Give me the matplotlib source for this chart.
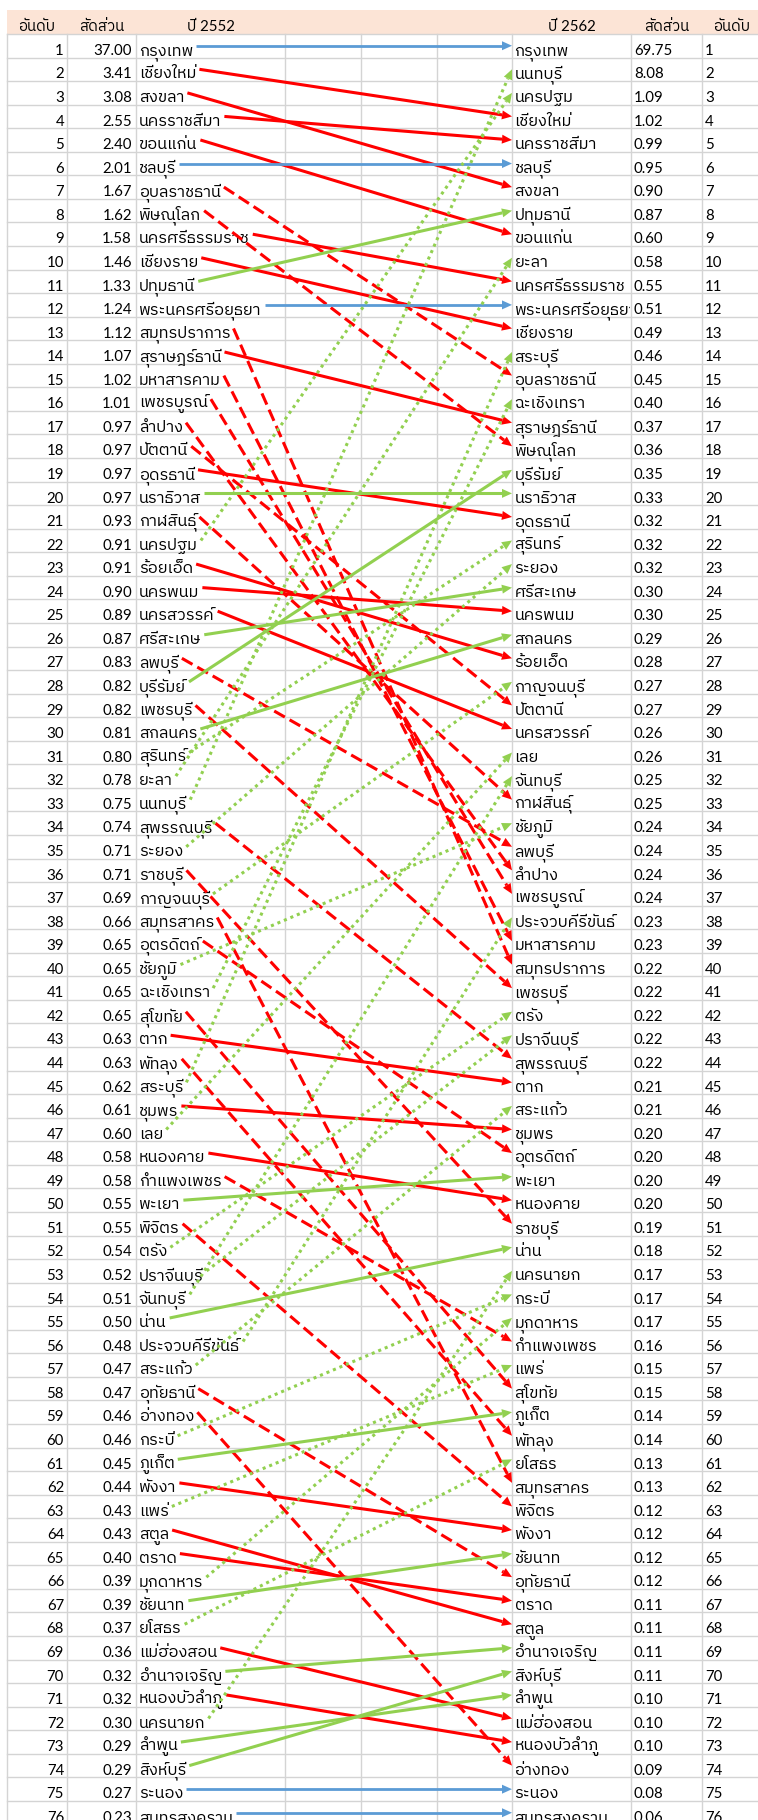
import matplotlib
matplotlib.use('Agg')
import matplotlib.pyplot as plt
from matplotlib import font_manager
from matplotlib.ft2font import FT2Font
from matplotlib.patches import Rectangle, Polygon

# ---- data -------------------------------------------------------------
names_2552 = [
    'กรุงเทพ', 'เชียงใหม่', 'สงขลา', 'นครราชสีมา', 'ขอนแก่น', 'ชลบุรี', 'อุบลราชธานี',
    'พิษณุโลก', 'นครศรีธรรมราช', 'เชียงราย', 'ปทุมธานี', 'พระนครศรีอยุธยา', 'สมุทรปราการ',
    'สุราษฎร์ธานี', 'มหาสารคาม', 'เพชรบูรณ์', 'ลำปาง', 'ปัตตานี', 'อุดรธานี', 'นราธิวาส',
    'กาฬสินธุ์', 'นครปฐม', 'ร้อยเอ็ด', 'นครพนม', 'นครสวรรค์', 'ศรีสะเกษ', 'ลพบุรี',
    'บุรีรัมย์', 'เพชรบุรี', 'สกลนคร', 'สุรินทร์', 'ยะลา', 'นนทบุรี', 'สุพรรณบุรี', 'ระยอง',
    'ราชบุรี', 'กาญจนบุรี', 'สมุทรสาคร', 'อุตรดิตถ์', 'ชัยภูมิ', 'ฉะเชิงเทรา', 'สุโขทัย',
    'ตาก', 'พัทลุง', 'สระบุรี', 'ชุมพร', 'เลย', 'หนองคาย', 'กำแพงเพชร', 'พะเยา', 'พิจิตร',
    'ตรัง', 'ปราจีนบุรี', 'จันทบุรี', 'น่าน', 'ประจวบคีรีขันธ์', 'สระแก้ว', 'อุทัยธานี',
    'อ่างทอง', 'กระบี่', 'ภูเก็ต', 'พังงา', 'แพร่', 'สตูล', 'ตราด', 'มุกดาหาร', 'ชัยนาท',
    'ยโสธร', 'แม่ฮ่องสอน', 'อำนาจเจริญ', 'หนองบัวลำภู', 'นครนายก', 'ลำพูน', 'สิงห์บุรี',
    'ระนอง', 'สมุทรสงคราม',
]
share_2552 = [
    37.00, 3.41, 3.08, 2.55, 2.40, 2.01, 1.67, 1.62, 1.58, 1.46, 1.33, 1.24, 1.12, 1.07,
    1.02, 1.01, 0.97, 0.97, 0.97, 0.97, 0.93, 0.91, 0.91, 0.90, 0.89, 0.87, 0.83, 0.82,
    0.82, 0.81, 0.80, 0.78, 0.75, 0.74, 0.71, 0.71, 0.69, 0.66, 0.65, 0.65, 0.65, 0.65,
    0.63, 0.63, 0.62, 0.61, 0.60, 0.58, 0.58, 0.55, 0.55, 0.54, 0.52, 0.51, 0.50, 0.48,
    0.47, 0.47, 0.46, 0.46, 0.45, 0.44, 0.43, 0.43, 0.40, 0.39, 0.39, 0.37, 0.36, 0.32,
    0.32, 0.30, 0.29, 0.29, 0.27, 0.23,
]
names_2562 = [
    'กรุงเทพ', 'นนทบุรี', 'นครปฐม', 'เชียงใหม่', 'นครราชสีมา', 'ชลบุรี', 'สงขลา', 'ปทุมธานี',
    'ขอนแก่น', 'ยะลา', 'นครศรีธรรมราช', 'พระนครศรีอยุธยา', 'เชียงราย', 'สระบุรี',
    'อุบลราชธานี', 'ฉะเชิงเทรา', 'สุราษฎร์ธานี', 'พิษณุโลก', 'บุรีรัมย์', 'นราธิวาส',
    'อุดรธานี', 'สุรินทร์', 'ระยอง', 'ศรีสะเกษ', 'นครพนม', 'สกลนคร', 'ร้อยเอ็ด', 'กาญจนบุรี',
    'ปัตตานี', 'นครสวรรค์', 'เลย', 'จันทบุรี', 'กาฬสินธุ์', 'ชัยภูมิ', 'ลพบุรี', 'ลำปาง',
    'เพชรบูรณ์', 'ประจวบคีรีขันธ์', 'มหาสารคาม', 'สมุทรปราการ', 'เพชรบุรี', 'ตรัง',
    'ปราจีนบุรี', 'สุพรรณบุรี', 'ตาก', 'สระแก้ว', 'ชุมพร', 'อุตรดิตถ์', 'พะเยา', 'หนองคาย',
    'ราชบุรี', 'น่าน', 'นครนายก', 'กระบี่', 'มุกดาหาร', 'กำแพงเพชร', 'แพร่', 'สุโขทัย',
    'ภูเก็ต', 'พัทลุง', 'ยโสธร', 'สมุทรสาคร', 'พิจิตร', 'พังงา', 'ชัยนาท', 'อุทัยธานี',
    'ตราด', 'สตูล', 'อำนาจเจริญ', 'สิงห์บุรี', 'ลำพูน', 'แม่ฮ่องสอน', 'หนองบัวลำภู',
    'อ่างทอง', 'ระนอง', 'สมุทรสงคราม',
]
share_2562 = [
    69.75, 8.08, 1.09, 1.02, 0.99, 0.95, 0.90, 0.87, 0.60, 0.58, 0.55, 0.51, 0.49, 0.46,
    0.45, 0.40, 0.37, 0.36, 0.35, 0.33, 0.32, 0.32, 0.32, 0.30, 0.30, 0.29, 0.28, 0.27,
    0.27, 0.26, 0.26, 0.25, 0.25, 0.24, 0.24, 0.24, 0.24, 0.23, 0.23, 0.22, 0.22, 0.22,
    0.22, 0.22, 0.21, 0.21, 0.20, 0.20, 0.20, 0.20, 0.19, 0.18, 0.17, 0.17, 0.17, 0.16,
    0.15, 0.15, 0.14, 0.14, 0.13, 0.13, 0.12, 0.12, 0.12, 0.12, 0.11, 0.11, 0.11, 0.11,
    0.10, 0.10, 0.10, 0.09, 0.08, 0.06,
]
headers_left = ['อันดับ', 'สัดส่วน', 'ปี 2552']
headers_right = ['ปี 2562', 'สัดส่วน', 'อันดับ']

# arrows the original drew differently from the rank-change rule
style_override = {'นราธิวาส': 'up', 'บุรีรัมย์': 'up'}

# ---- fonts ------------------------------------------------------------
def thai_fonts():
    found = []
    for f in font_manager.fontManager.ttflist:
        if f.name in found:
            continue
        try:
            cmap = FT2Font(f.fname).get_charmap()
        except Exception:
            continue
        if 0x0E01 in cmap and 0x0E48 in cmap:
            found.append(f.name)
    found.sort(key=lambda n: (0 if 'Thai' in n else 1, n))
    return found

thai = thai_fonts()
FAMILY = ['Lato'] + thai + ['DejaVu Sans']
NAME_FAMILY = thai + ['Lato', 'DejaVu Sans']

# ---- layout -----------------------------------------------------------
W, H = 758, 1820
RH = 23.56          # row height, px
TOP = 10.4          # white margin above the header, px
edges = [7, 67, 136, 285, 361, 437, 512, 631, 702, 762]
GRID = '#d4d4d4'
HEAD = '#fce4d6'
COLORS = {'same': '#5b9bd5', 'up': '#92d050', 'down': '#ff0000'}
FS = 10.8
NFS = 11.8

fig = plt.figure(figsize=(W / 100, H / 100), dpi=100)
ax = fig.add_axes([0, 0, 1, 1])
ytop = -0.5 - TOP / RH
ybot = ytop + H / RH
ax.set_xlim(0, W)
ax.set_ylim(ybot, ytop)
ax.axis('off')

n = len(names_2552)

# header + grid
ax.add_patch(Rectangle((edges[0], -0.5), edges[-1] - edges[0], 1, facecolor=HEAD,
                       edgecolor='none', zorder=1))
for k in range(1, n + 2):
    ax.plot([edges[0], edges[-1]], [k - 0.5, k - 0.5], color=GRID, lw=1.0, zorder=2)
for e in edges:
    ax.plot([e, e], [0.5, n + 1], color=GRID, lw=1.0, zorder=2)

base = 0.5 - 2.6 / RH   # text baseline inside a row
for j, h in enumerate(headers_left):
    ax.text((edges[j] + edges[j + 1]) / 2, base, h, ha='center', va='baseline',
            fontsize=FS, family=FAMILY, zorder=5)
for j, h in enumerate(headers_right):
    ax.text((edges[6 + j] + edges[7 + j]) / 2, base, h, ha='center', va='baseline',
            fontsize=FS, family=FAMILY, zorder=5)

fig.canvas.draw()
renderer = fig.canvas.get_renderer()
inv = ax.transData.inverted()

clip_g = Rectangle((edges[6], 0), edges[7] - edges[6] - 1, n + 2, transform=ax.transData)

left_end = []
for i in range(n):
    r = i + 1
    ax.text(edges[1] - 3, r + base, str(r), ha='right', va='baseline',
            fontsize=FS, family=FAMILY, zorder=5)
    ax.text(edges[2] - 4, r + base, f'{share_2552[i]:.2f}', ha='right', va='baseline',
            fontsize=FS, family=FAMILY, zorder=5)
    t = ax.text(edges[2] + 3, r + base, names_2552[i], ha='left', va='baseline',
                fontsize=NFS, family=NAME_FAMILY, zorder=5)
    bb = t.get_window_extent(renderer)
    left_end.append(inv.transform((bb.x1, bb.y0))[0])

    tr = ax.text(edges[6] + 2.5, r + base, names_2562[i], ha='left', va='baseline',
                 fontsize=NFS, family=NAME_FAMILY, zorder=5)
    tr.set_clip_on(True)
    tr.set_clip_path(clip_g)
    ax.text(edges[7] + 3, r + base, f'{share_2562[i]:.2f}', ha='left', va='baseline',
            fontsize=FS, family=FAMILY, zorder=5)
    ax.text(edges[8] + 3, r + base, str(r), ha='left', va='baseline',
            fontsize=FS, family=FAMILY, zorder=5)

# ---- arrows -----------------------------------------------------------
HL, HW = 10.0, 9.0   # arrow head length / width, px
for i, name in enumerate(names_2552):
    r0 = i + 1
    r1 = names_2562.index(name) + 1
    change = r0 - r1
    kind = 'same' if change == 0 else ('up' if change > 0 else 'down')
    far = abs(change) > 5
    kind = style_override.get(name, kind)
    if name in style_override:
        far = False
    color = COLORS[kind]
    if kind == 'same':
        ls = '-'
        lw = 2.0
    elif far and kind == 'up':
        ls = (0, (1.0, 1.3))
        lw = 2.2
    elif far:
        ls = (0, (4.0, 1.8))
        lw = 2.2
    else:
        ls = '-'
        lw = 2.2
    x0, y0 = left_end[i] + 3, r0
    x1, y1 = edges[6], r1
    dx, dy = x1 - x0, (y1 - y0) * RH
    L = (dx ** 2 + dy ** 2) ** 0.5
    ux, uy = dx / L, dy / L
    bx, by = x1 - HL * ux, y1 - HL * uy / RH
    ax.plot([x0, bx], [y0, by], color=color, lw=lw, ls=ls,
            solid_capstyle='butt', dash_capstyle='butt', zorder=6)
    px, py = -uy * HW / 2, ux * HW / 2
    head = Polygon([(x1, y1), (bx + px, by + py / RH), (bx - px, by - py / RH)],
                   closed=True, facecolor=color, edgecolor='none', zorder=6)
    ax.add_patch(head)

fig.savefig('out.png', dpi=100)
